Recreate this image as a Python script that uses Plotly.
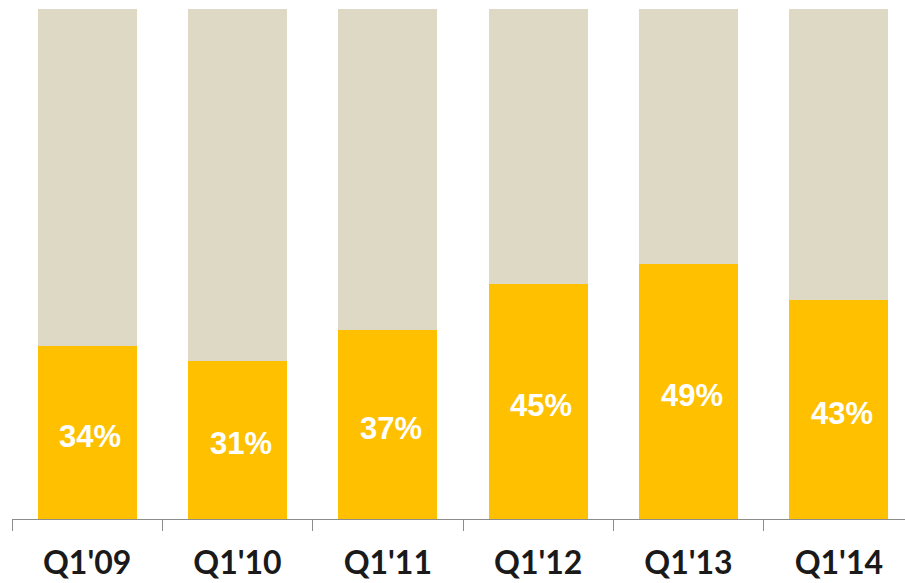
import plotly.graph_objects as go

categories = ["Q1'09", "Q1'10", "Q1'11", "Q1'12", "Q1'13", "Q1'14"]
share = [34, 31, 37, 46, 50, 43]          # bar heights as drawn
share_labels = ["34%", "31%", "37%", "45%", "49%", "43%"]
rest = [100 - v for v in share]

fig = go.Figure()
fig.add_trace(go.Bar(
    x=categories, y=share, marker=dict(color="#FFC000", line=dict(width=0)),
    hoverinfo="skip"))
fig.add_trace(go.Bar(
    x=categories, y=rest, marker=dict(color="#DDD9C4", line=dict(width=0)),
    hoverinfo="skip"))

for c, v, t in zip(categories, share, share_labels):
    fig.add_annotation(x=c, y=v / 2, text=t, showarrow=False,
                       xanchor="center", yanchor="middle", xshift=3, yshift=-4,
                       font=dict(family="Liberation Sans", size=31, color="white",
                                 weight="bold"))

fig.update_layout(
    barmode="stack", bargap=0.34, showlegend=False,
    width=905, height=583, margin=dict(l=12, r=0, t=9, b=64),
    paper_bgcolor="white", plot_bgcolor="white",
    xaxis=dict(type="category", range=[-0.5, 5.44], tickson="boundaries",
               ticks="outside", ticklen=11, tickcolor="#8c8c8c", tickwidth=1,
               showline=True, linecolor="#8c8c8c", linewidth=1,
               showgrid=False, zeroline=False, ticklabelstandoff=16,
               tickfont=dict(family="Lato", size=32, color="#1a1a1a", weight="bold")),
    yaxis=dict(range=[0, 100], visible=False, showgrid=False, zeroline=False),
)
fig.write_html("out.html")
